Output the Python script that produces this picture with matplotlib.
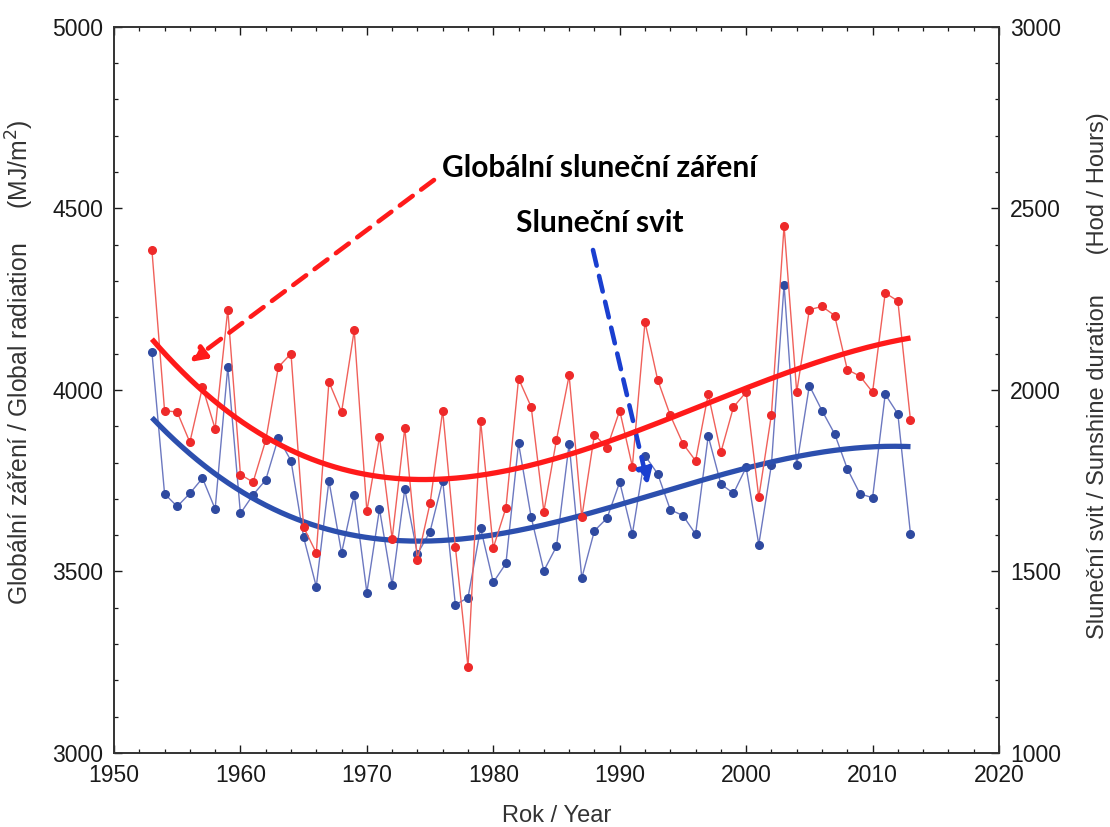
import numpy as np
import matplotlib
matplotlib.use("Agg")
import matplotlib.pyplot as plt
from matplotlib.ticker import MultipleLocator

plt.rcParams['font.family'] = ['Liberation Sans', 'DejaVu Sans']

years = list(range(1953, 2014))

# Global radiation (MJ/m2), left axis
radiation = [4385, 3943, 3939, 3856, 4008, 3893, 4221, 3767, 3746, 3861,
             4063, 4100, 3622, 3551, 4022, 3939, 4164, 3666, 3870, 3590,
             3895, 3532, 3688, 3943, 3568, 3237, 3914, 3565, 3675, 4031,
             3953, 3665, 3863, 4040, 3649, 3877, 3841, 3943, 3789, 4187,
             4028, 3930, 3852, 3805, 3988, 3828, 3953, 3994, 3704, 3932,
             4452, 3994, 4221, 4230, 4205, 4056, 4038, 3994, 4267, 4245,
             3916]

# Sunshine duration (hours), right axis
sunshine = [2104, 1714, 1679, 1715, 1757, 1672, 2063, 1660, 1711, 1752,
            1868, 1805, 1594, 1458, 1750, 1551, 1711, 1442, 1672, 1463,
            1727, 1548, 1610, 1750, 1408, 1428, 1619, 1470, 1522, 1853,
            1649, 1502, 1569, 1852, 1482, 1612, 1647, 1746, 1603, 1819,
            1769, 1670, 1654, 1603, 1873, 1741, 1715, 1787, 1574, 1794,
            2290, 1792, 2012, 1943, 1879, 1783, 1714, 1703, 1988, 1934,
            1603]

label_rad = "Globální sluneční záření"
label_sun = "Sluneční svit"

red_line = '#f0605a'
red_mark = '#ee2a2a'
red_trend = '#ff1a1a'
blue_line = '#6c78c0'
blue_mark = '#2f4aa0'
blue_trend = '#2c4fae'

fig = plt.figure(figsize=(11.1, 8.27), dpi=100)
ax = fig.add_axes([0.1027, 0.0895, 0.7973, 0.878])
ax2 = ax.twinx()

yr = np.array(years, dtype=float)
xs = np.linspace(1953, 2013, 300)

# thin series
ax2.plot(years, sunshine, '-', color=blue_line, lw=1.0, zorder=2)
ax2.plot(years, sunshine, 'o', color=blue_mark, ms=5.5, mec=blue_mark, zorder=3)
cb = np.polyfit(yr - 1983, np.array(sunshine, float), 3)
ax2.plot(xs, np.polyval(cb, xs - 1983), color=blue_trend, lw=3.8, zorder=4, solid_capstyle='butt')

ax.plot(years, radiation, '-', color=red_line, lw=1.0, zorder=2)
ax.plot(years, radiation, 'o', color=red_mark, ms=5.5, mec=red_mark, zorder=3)
cr = np.polyfit(yr - 1983, np.array(radiation, float), 3)
ax.plot(xs, np.polyval(cr, xs - 1983), color=red_trend, lw=3.8, zorder=4, solid_capstyle='butt')

ax.set_zorder(ax2.get_zorder() + 1)
ax.patch.set_visible(False)

ax.set_xlim(1950, 2020)
ax.set_ylim(3000, 5000)
ax2.set_ylim(1000, 3000)

ax.xaxis.set_major_locator(MultipleLocator(10))
ax.xaxis.set_minor_locator(MultipleLocator(2))
ax.yaxis.set_major_locator(MultipleLocator(500))
ax.yaxis.set_minor_locator(MultipleLocator(100))
ax2.yaxis.set_major_locator(MultipleLocator(500))
ax2.yaxis.set_minor_locator(MultipleLocator(100))

for a in (ax, ax2):
    a.tick_params(which='both', direction='in', labelsize=16.5, colors='#1a1a1a')
    a.tick_params(which='major', length=6, width=1.0)
    a.tick_params(which='minor', length=3, width=0.9)
    for s in a.spines.values():
        s.set_color('#333333')
        s.set_linewidth(1.2)
ax.tick_params(axis='x', which='both', top=True, pad=8)
ax.tick_params(axis='y', pad=8)
ax2.tick_params(axis='y', pad=8)

ax.set_xlabel("Rok / Year", fontsize=17, color='#333333', labelpad=13)
ax.set_ylabel("Globální záření / Global radiation     (MJ/m$^2$)", fontsize=17.8,
              color='#333333')
ax.yaxis.set_label_coords(-0.088, 0.538)
ax2.set_ylabel("Sluneční svit / Sunshine duration      (Hod / Hours)", fontsize=17,
               color='#333333', rotation=90)
ax2.yaxis.set_label_coords(1.099, 0.52)

# annotations (figure pixel coordinates converted to fraction)
W, H = 1110, 827
def fp(x, y):
    return (x / W, 1 - y / H)

fig.text(*fp(600, 168), label_rad, fontsize=21.5, fontweight='bold',
         family=['Lato', 'DejaVu Sans'], ha='center', va='center')
fig.text(*fp(600, 223), label_sun, fontsize=21.5, fontweight='bold',
         family=['Lato', 'DejaVu Sans'], ha='center', va='center')

ax.annotate('', xy=fp(190, 362), xycoords='figure fraction',
            xytext=fp(434, 180), textcoords='figure fraction',
            arrowprops=dict(arrowstyle='-|>,head_length=0.9,head_width=0.45',
                            color='#ff1a1a', lw=3.3, linestyle=(0, (3.5, 2.3)),
                            shrinkA=0, shrinkB=0))
ax.annotate('', xy=fp(648, 485), xycoords='figure fraction',
            xytext=fp(593, 250), textcoords='figure fraction',
            arrowprops=dict(arrowstyle='-|>,head_length=0.9,head_width=0.45',
                            color='#1a3fd0', lw=3.3, linestyle=(0, (3.5, 2.3)),
                            shrinkA=0, shrinkB=0))

fig.savefig('out.png', dpi=100)
